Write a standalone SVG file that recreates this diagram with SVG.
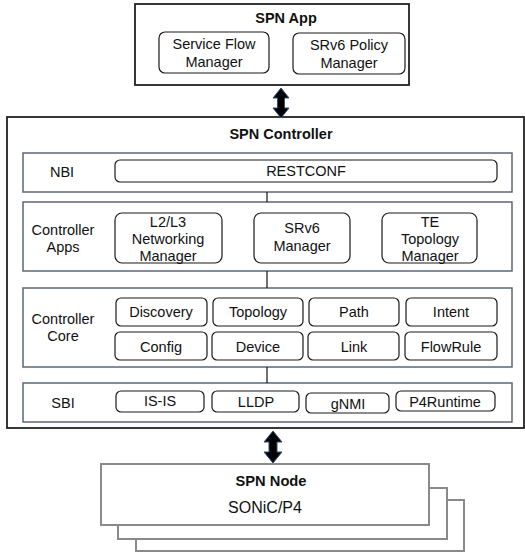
<svg xmlns="http://www.w3.org/2000/svg" width="525" height="552" viewBox="0 0 525 552">
<defs>
<style>
text{font-family:"Liberation Sans",Arial,sans-serif;font-size:14.5px;fill:#111;text-anchor:middle;dominant-baseline:central}
.b{font-weight:bold}
.outer{fill:#fff;stroke:#222;stroke-width:1.8}
.layer{fill:#fff;stroke:#5d6778;stroke-width:1.5}
.box{fill:#fff;stroke:#1a1a1a;stroke-width:1.2}
.node{fill:#fff;stroke:#8a8a8a;stroke-width:2}
.conn{stroke:#111;stroke-width:1.2;fill:none}
.arr{fill:#000;stroke:#2f4f80;stroke-width:1}
</style>
</defs>
<rect width="525" height="552" fill="#fff"/>

<g id="spn-node">
<rect class="node" x="136" y="500" width="328" height="51"/>
<rect class="node" x="118" y="488" width="329" height="51"/>
<rect class="node" x="101" y="464" width="328" height="61"/>
<text class="b" x="271" y="481" style="font-size:14.7px">SPN Node</text>
<text x="265" y="507" style="font-size:16px">SONiC/P4</text>
</g>

<g id="spn-app">
<rect class="outer" x="135" y="4" width="274" height="81"/>
<text class="b" x="286" y="18">SPN App</text>
<g id="service-flow-manager">
<rect class="box" x="159" y="32" width="110" height="41" rx="6"/>
<text x="214" y="44">Service Flow</text>
<text x="214" y="62">Manager</text>
</g>
<g id="srv6-policy-manager">
<rect class="box" x="293" y="33" width="112" height="41" rx="6"/>
<text x="349" y="45">SRv6 Policy</text>
<text x="349" y="63">Manager</text>
</g>
</g>

<g id="spn-controller">
<rect class="outer" x="7" y="117" width="517" height="311"/>
<text class="b" x="281" y="134">SPN Controller</text>
</g>

<g id="nbi">
<rect class="layer" x="23" y="153" width="489" height="39"/>
<text x="62" y="172">NBI</text>
<g id="restconf">
<rect class="box" x="115" y="160" width="382" height="22" rx="5"/>
<text x="306" y="171">RESTCONF</text>
</g>
</g>

<g id="controller-apps">
<rect class="layer" x="23" y="202" width="489" height="69"/>
<text x="63" y="230">Controller</text>
<text x="63" y="247">Apps</text>
<g id="l2l3-networking-manager">
<rect class="box" x="115" y="213" width="107" height="50" rx="7"/>
<text x="168" y="222">L2/L3</text>
<text x="168" y="239">Networking</text>
<text x="168" y="256">Manager</text>
</g>
<g id="srv6-manager">
<rect class="box" x="254" y="213" width="96" height="50" rx="7"/>
<text x="302" y="228">SRv6</text>
<text x="302" y="246">Manager</text>
</g>
<g id="te-topology-manager">
<rect class="box" x="382" y="213" width="95" height="50" rx="7"/>
<text x="430" y="222">TE</text>
<text x="430" y="239">Topology</text>
<text x="430" y="256">Manager</text>
</g>
</g>

<g id="controller-core">
<rect class="layer" x="23" y="288" width="489" height="79"/>
<text x="63" y="319">Controller</text>
<text x="63" y="336">Core</text>
<g id="discovery"><rect class="box" x="116" y="298" width="91" height="28" rx="5"/><text x="161" y="312">Discovery</text></g>
<g id="topology"><rect class="box" x="213" y="298" width="90" height="28" rx="5"/><text x="258" y="312">Topology</text></g>
<g id="path"><rect class="box" x="309" y="298" width="90" height="28" rx="5"/><text x="354" y="312">Path</text></g>
<g id="intent"><rect class="box" x="406" y="298" width="91" height="28" rx="5"/><text x="451" y="312">Intent</text></g>
<g id="config"><rect class="box" x="115" y="332" width="92" height="28" rx="5"/><text x="161" y="347">Config</text></g>
<g id="device"><rect class="box" x="212" y="332" width="91" height="28" rx="5"/><text x="258" y="347">Device</text></g>
<g id="link"><rect class="box" x="308" y="332" width="91" height="28" rx="5"/><text x="354" y="347">Link</text></g>
<g id="flowrule"><rect class="box" x="405" y="332" width="92" height="28" rx="5"/><text x="451" y="347">FlowRule</text></g>
</g>

<g id="sbi">
<rect class="layer" x="23" y="383" width="489" height="39"/>
<text x="63" y="403">SBI</text>
<g id="is-is"><rect class="box" x="116" y="391" width="88" height="21" rx="5"/><text x="160" y="401">IS-IS</text></g>
<g id="lldp"><rect class="box" x="212" y="391" width="87" height="21" rx="5"/><text x="256" y="402">LLDP</text></g>
<g id="gnmi"><rect class="box" x="306" y="393" width="83" height="20" rx="5"/><text x="348" y="404">gNMI</text></g>
<g id="p4runtime"><rect class="box" x="396" y="391" width="99" height="20" rx="5"/><text x="445" y="402">P4Runtime</text></g>
</g>

<g id="connectors">
<line class="conn" x1="267" y1="192" x2="267" y2="202"/>
<line class="conn" x1="267" y1="271" x2="267" y2="288"/>
<line class="conn" x1="267" y1="367" x2="267" y2="383"/>
<polygon class="arr" points="281,88 289,98 284.5,98 284.5,108 289,108 281,118 273,108 277.5,108 277.5,98 273,98"/>
<polygon class="arr" points="273,431 282,442 277,442 277,452 282,452 273,463 264,452 269,452 269,442 264,442"/>
</g>
</svg>
